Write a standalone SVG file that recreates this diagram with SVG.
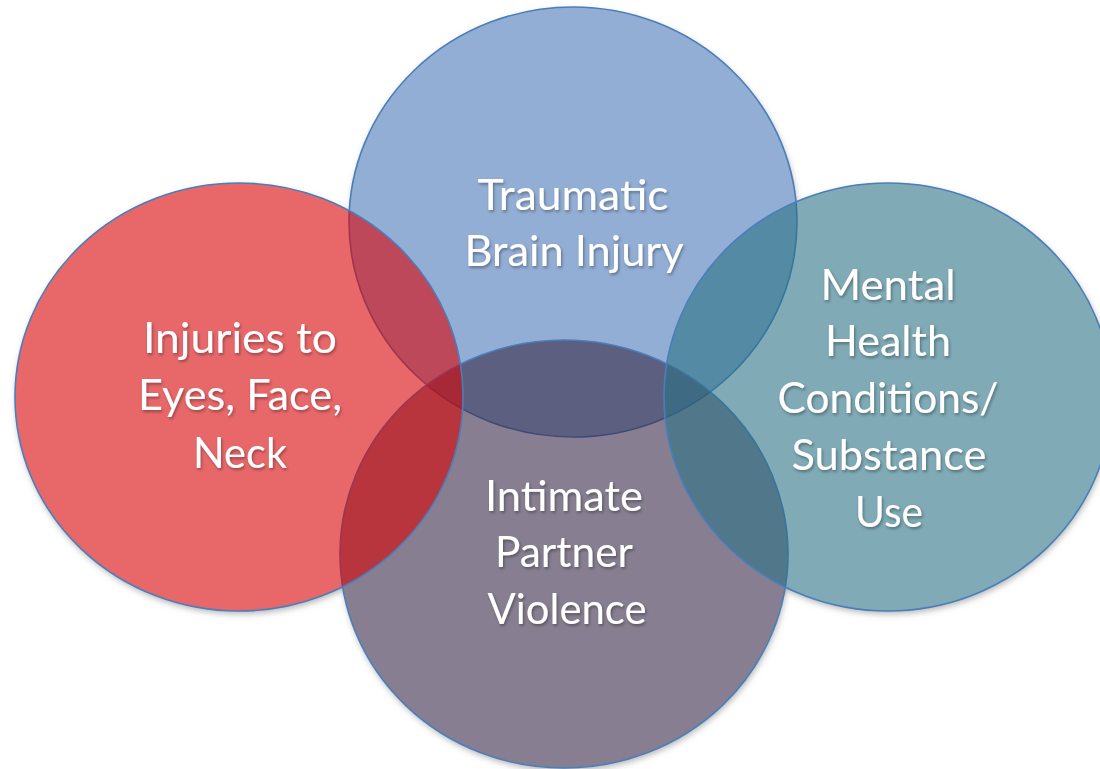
<svg xmlns="http://www.w3.org/2000/svg" width="1100" height="769" viewBox="0 0 1100 769">
  <defs>
    <filter id="softShadow" x="-10%" y="-10%" width="120%" height="120%">
      <feGaussianBlur stdDeviation="3"/>
    </filter>
    <filter id="textShadow" x="-10%" y="-20%" width="120%" height="150%">
      <feDropShadow dx="1.2" dy="2" stdDeviation="1.6" flood-color="#000" flood-opacity="0.35"/>
    </filter>
  </defs>
  <style>
    .disc { stroke: #4A7EBB; stroke-width: 1.6; fill-opacity: 0.6; }
    .shade { fill: #7a7a7a; fill-opacity: 0.55; }
    .label { font-family: Lato, "Open Sans", "Liberation Sans", sans-serif; font-size: 42px; fill: #ffffff; text-anchor: middle; filter: url(#textShadow); }
  </style>

  <rect width="1100" height="769" fill="#ffffff"/>

  <!-- soft drop shadows, hidden inside the discs by a white underlay -->
  <g id="shadows" filter="url(#softShadow)">
    <ellipse class="shade" cx="574" cy="225" rx="224" ry="215"/>
    <ellipse class="shade" cx="240" cy="400" rx="224" ry="214"/>
    <ellipse class="shade" cx="889" cy="400" rx="224" ry="214"/>
    <ellipse class="shade" cx="565" cy="557" rx="224" ry="214"/>
  </g>
  <g id="underlay" fill="#ffffff">
    <ellipse cx="573" cy="222" rx="224" ry="215"/>
    <ellipse cx="239" cy="397" rx="224" ry="214"/>
    <ellipse cx="888" cy="397" rx="224" ry="214"/>
    <ellipse cx="564" cy="554" rx="224" ry="214"/>
  </g>

  <g id="tbi">
    <ellipse class="disc" cx="573" cy="222" rx="224" ry="215" fill="#4B78B7"/>
    <text class="label" x="573" y="210" textLength="191" lengthAdjust="spacingAndGlyphs">Traumatic</text>
    <text class="label" x="574" y="266" textLength="219" lengthAdjust="spacingAndGlyphs">Brain Injury</text>
  </g>

  <g id="ipv">
    <ellipse class="disc" cx="564" cy="554" rx="224" ry="214" fill="#372A48"/>
    <text class="label" x="564" y="511" textLength="158" lengthAdjust="spacingAndGlyphs">Intimate</text>
    <text class="label" x="564" y="567" textLength="138" lengthAdjust="spacingAndGlyphs">Partner</text>
    <text class="label" x="567" y="624" textLength="159" lengthAdjust="spacingAndGlyphs">Violence</text>
  </g>

  <g id="injuries">
    <ellipse class="disc" cx="239" cy="397" rx="224" ry="214" fill="#D90307"/>
    <text class="label" x="240" y="353" textLength="194" lengthAdjust="spacingAndGlyphs">Injuries to</text>
    <text class="label" x="240" y="410" textLength="204" lengthAdjust="spacingAndGlyphs">Eyes, Face,</text>
    <text class="label" x="240" y="468" textLength="94" lengthAdjust="spacingAndGlyphs">Neck</text>
  </g>

  <g id="mental-health">
    <ellipse class="disc" cx="888" cy="397" rx="224" ry="214" fill="#2B7185"/>
    <text class="label" x="888" y="300" textLength="135" lengthAdjust="spacingAndGlyphs">Mental</text>
    <text class="label" x="888" y="356" textLength="126" lengthAdjust="spacingAndGlyphs">Health</text>
    <text class="label" x="888" y="413" textLength="221" lengthAdjust="spacingAndGlyphs">Conditions/</text>
    <text class="label" x="889" y="470" textLength="195" lengthAdjust="spacingAndGlyphs">Substance</text>
    <text class="label" x="889" y="527" textLength="68" lengthAdjust="spacingAndGlyphs">Use</text>
  </g>
</svg>
